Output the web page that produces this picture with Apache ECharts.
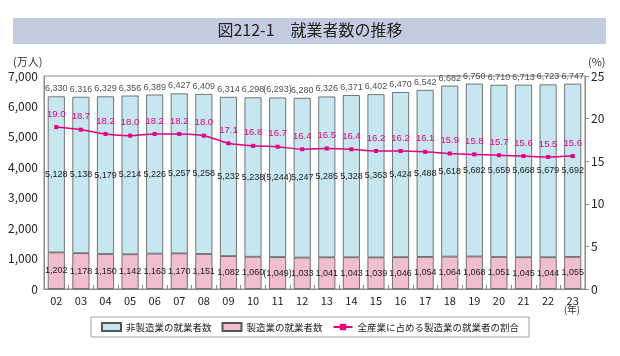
<!DOCTYPE html>
<html><head><meta charset="utf-8">
<script src="https://cdn.jsdelivr.net/npm/echarts@6/dist/echarts.min.js"></script>
<style>html,body{margin:0;padding:0;background:#fff}#c{width:620px;height:356px}</style>
</head><body><div id="c"></div>
<script>
const years = ['02','03','04','05','06','07','08','09','10','11','12','13','14','15','16','17','18','19','20','21','22','23'];
const totals = [6330,6316,6329,6356,6389,6427,6409,6314,6298,6293,6280,6326,6371,6402,6470,6542,6682,6750,6710,6713,6723,6747];
const nonMfg = [5128,5138,5179,5214,5226,5257,5258,5232,5238,5244,5247,5285,5328,5363,5424,5488,5618,5682,5659,5668,5679,5692];
const mfg = [1202,1178,1150,1142,1163,1170,1151,1082,1060,1049,1033,1041,1043,1039,1046,1054,1064,1068,1051,1045,1044,1055];
const share = [19.0,18.7,18.2,18.0,18.2,18.2,18.0,17.1,16.8,16.7,16.4,16.5,16.4,16.2,16.2,16.1,15.9,15.8,15.7,15.6,15.5,15.6];
const paren = [9];
const leftTicks = [0,1000,2000,3000,4000,5000,6000,7000];
const rightTicks = [0,5,10,15,20,25];

const FONT = '"Noto Sans CJK JP", "Noto Sans", sans-serif';
const NUM = '"Liberation Sans", Arial, sans-serif';
const fmt = (v, i) => {
  const s = Number(v).toLocaleString('en-US');
  return paren.includes(i) ? '(' + s + ')' : s;
};
const chart = echarts.init(document.getElementById('c'));
chart.setOption({
  animation: false,
  textStyle: { fontFamily: FONT },
  graphic: [
    { type: 'rect', shape: { x: 13, y: 18, width: 593, height: 26 }, style: { fill: '#c3cde0' } },
    { type: 'text', left: 'center', top: 22, style: { text: '図212-1　就業者数の推移', font: '16px ' + FONT, fill: '#222' } },
    { type: 'text', left: 13, top: 56, style: { text: '(万人)', font: '11px ' + FONT, fill: '#333' } },
    { type: 'text', left: 588, top: 56, style: { text: '(%)', font: '11px ' + FONT, fill: '#333' } },
    { type: 'text', left: 564, top: 305, style: { text: '(年)', font: '9.5px ' + FONT, fill: '#333' } }
  ],
  grid: { left: 44, right: 35, top: 76, bottom: 67, show: true, borderColor: '#8a8a8a', borderWidth: 1 },
  legend: {
    top: 317, left: 'center',
    borderColor: '#a0a0a0', borderWidth: 1, padding: [5, 10], itemGap: 10,
    itemWidth: 19, itemHeight: 8,
    textStyle: { fontSize: 9.5, color: '#222', fontFamily: FONT },
    data: [
      { name: '非製造業の就業者数', icon: 'rect' },
      { name: '製造業の就業者数', icon: 'rect' },
      { name: '全産業に占める製造業の就業者の割合' }
    ]
  },
  xAxis: {
    type: 'category', data: years,
    axisLine: { lineStyle: { color: '#8a8a8a' } },
    axisTick: { show: true, inside: true, length: 4, lineStyle: { color: '#8a8a8a' } },
    axisLabel: { fontSize: 11, color: '#222', margin: 6 }
  },
  yAxis: [
    { type: 'value', min: 0, max: 7000, interval: 1000,
      axisLine: { show: true, lineStyle: { color: '#8a8a8a' } }, axisTick: { show: false },
      splitLine: { show: false },
      axisLabel: { fontSize: 12, color: '#222', margin: 6, formatter: v => v.toLocaleString('en-US') } },
    { type: 'value', min: 0, max: 25, interval: 5,
      axisLine: { show: true, lineStyle: { color: '#8a8a8a' } },
      axisTick: { show: true, length: 4, lineStyle: { color: '#8a8a8a' } },
      splitLine: { show: false },
      axisLabel: { fontSize: 12, color: '#222', margin: 6 } }
  ],
  series: [
    { name: '製造業の就業者数', type: 'bar', stack: 'a', data: mfg, barWidth: 17,
      itemStyle: { color: '#f1bdd1', borderColor: '#555', borderWidth: 0.8 },
      label: { show: true, position: 'inside', fontSize: 9, color: '#222', fontFamily: NUM,
        formatter: p => fmt(p.value, p.dataIndex) } },
    { name: '非製造業の就業者数', type: 'bar', stack: 'a', data: nonMfg, barWidth: 17,
      itemStyle: { color: '#c7e7f0', borderColor: '#555', borderWidth: 0.8 },
      label: { show: true, position: 'inside', fontSize: 9, color: '#222', fontFamily: NUM,
        formatter: p => fmt(p.value, p.dataIndex) } },
    { name: 'totals', type: 'scatter', data: totals, symbolSize: 0, silent: true,
      label: { show: true, position: 'top', distance: 3, fontSize: 9, color: '#222', fontFamily: NUM,
        formatter: p => fmt(p.value, p.dataIndex) } },
    { name: '全産業に占める製造業の就業者の割合', type: 'line', yAxisIndex: 1, data: share,
      smooth: 0.3, symbol: 'rect', symbolSize: 4,
      lineStyle: { color: '#e4007f', width: 1.5 }, itemStyle: { color: '#e4007f' },
      label: { show: true, position: 'top', distance: 6, fontSize: 9.5, color: '#e4007f', fontFamily: NUM,
        formatter: p => p.value.toFixed(1) } }
  ]
});
</script></body></html>
